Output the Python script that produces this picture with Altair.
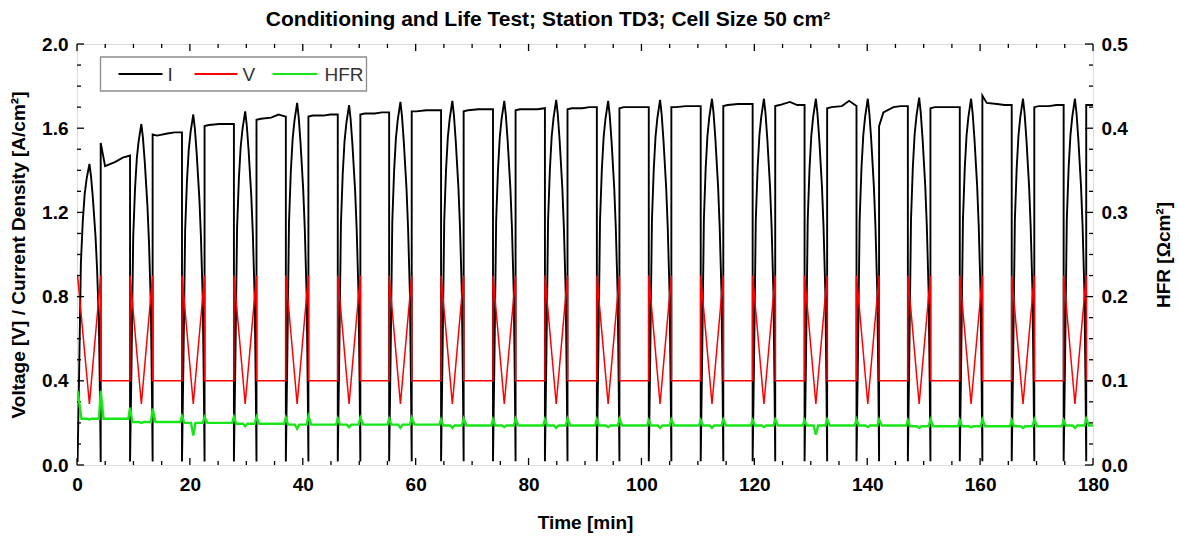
import altair as alt
import pandas as pd

# ---- cycle timing [min]: each cycle = polarization sweep (0.9 V -> min -> 0.9 V) then 0.4 V hold
SWEEP_START = [0.1, 9.4, 18.6, 27.8, 37.0, 46.2, 55.3, 64.5, 73.7, 82.9,
               92.1, 101.3, 110.5, 119.7, 128.9, 138.1, 147.2, 156.4, 165.6, 174.8]
V_MIN_TIME = [2.2, 11.4, 20.6, 29.8, 39.0, 48.2, 57.3, 66.5, 75.7, 84.9,
              94.1, 103.3, 112.5, 121.7, 130.9, 140.1, 149.2, 158.4, 167.6, 176.8]
SWEEP_END = [4.2, 13.4, 22.6, 31.8, 41.0, 50.2, 59.3, 68.5, 77.7, 86.9,
             96.1, 105.3, 114.5, 123.7, 132.9, 142.1, 151.2, 160.4, 169.6, 178.8]
T_STOP = 180.0

# ---- voltage levels [V]
V_OPEN = 0.9
V_LOW = 0.29
V_HOLD = 0.4

# ---- current density [A/cm2]
I_PEAK = [1.43, 1.62, 1.665, 1.68, 1.72, 1.71, 1.725, 1.73, 1.73, 1.735,
          1.73, 1.735, 1.74, 1.74, 1.74, 1.74, 1.745, 1.74, 1.74, 1.74]
# shape of the current during a sweep (fraction of sweep time, fraction of peak)
SWEEP_F = [0.0, 0.065, 0.14, 0.22, 0.30, 0.38, 0.5, 0.57, 0.65, 0.77, 0.84, 0.92, 0.97, 1.0]
SWEEP_I = [0.01, 0.30, 0.67, 0.81, 0.90, 0.95, 1.0, 0.96, 0.89, 0.76, 0.65, 0.47, 0.21, 0.01]
# current during the 0.4 V hold, sampled at these fractions of the hold
HOLD_F = [0.0, 0.15, 0.5, 0.75, 1.0]
I_HOLD = [
    [1.53, 1.42, 1.44, 1.46, 1.47],
    [1.57, 1.565, 1.575, 1.58, 1.58],
    [1.61, 1.615, 1.62, 1.62, 1.62],
    [1.64, 1.645, 1.65, 1.665, 1.655],
    [1.655, 1.66, 1.66, 1.665, 1.665],
    [1.665, 1.67, 1.67, 1.675, 1.675],
    [1.68, 1.68, 1.685, 1.685, 1.685],
    [1.68, 1.685, 1.69, 1.69, 1.69],
    [1.685, 1.69, 1.69, 1.69, 1.695],
    [1.69, 1.695, 1.695, 1.70, 1.70],
    [1.695, 1.70, 1.70, 1.70, 1.70],
    [1.70, 1.70, 1.705, 1.705, 1.705],
    [1.705, 1.71, 1.715, 1.715, 1.715],
    [1.705, 1.71, 1.725, 1.71, 1.71],
    [1.695, 1.70, 1.705, 1.73, 1.705],
    [1.61, 1.675, 1.70, 1.705, 1.705],
    [1.695, 1.70, 1.70, 1.70, 1.70],
    [1.755, 1.72, 1.715, 1.71, 1.71],
    [1.70, 1.705, 1.705, 1.71, 1.71],
    [1.71, 1.71, 1.71, 1.71, 1.71],
]

# ---- high frequency resistance [Ohm cm2]
HFR_START = [0.088, 0.068, 0.058, 0.057, 0.056, 0.055, 0.055, 0.054, 0.054, 0.054,
             0.054, 0.053, 0.053, 0.053, 0.053, 0.054, 0.053, 0.053, 0.053, 0.053]
HFR_VMIN = [0.054, 0.050, 0.035, 0.046, 0.043, 0.045, 0.044, 0.044, 0.045, 0.044,
            0.045, 0.044, 0.044, 0.045, 0.036, 0.045, 0.044, 0.045, 0.044, 0.044]
HFR_END = [0.088, 0.067, 0.057, 0.057, 0.058, 0.056, 0.056, 0.055, 0.055, 0.055,
           0.055, 0.054, 0.054, 0.054, 0.054, 0.054, 0.054, 0.054, 0.054, 0.055]
HFR_HOLD = [0.055, 0.051, 0.050, 0.049, 0.048, 0.048, 0.048, 0.047, 0.047, 0.047,
            0.047, 0.047, 0.047, 0.047, 0.047, 0.047, 0.046, 0.046, 0.046, 0.047]

# ---- axis tick values
X_TICKS = list(range(0, 181, 5))
Y_LEFT_TICKS = [round(0.1 * i, 1) for i in range(21)]
Y_RIGHT_TICKS = [round(0.025 * i, 3) for i in range(21)]

SERIES = ["I", "V", "HFR"]
COLORS = ["#000000", "#ff0000", "#19e619"]

FONT = "Liberation Sans"
W, H = 1016, 421


def sweep_time(k, f):
    ts, tm, te = SWEEP_START[k], V_MIN_TIME[k], SWEEP_END[k]
    if f <= 0.5:
        return ts + 2 * f * (tm - ts)
    return tm + (2 * f - 1) * (te - tm)


rows = []
n = len(SWEEP_START)
for k in range(n):
    ts, tm, te = SWEEP_START[k], V_MIN_TIME[k], SWEEP_END[k]
    t_next = SWEEP_START[k + 1] if k + 1 < n else T_STOP
    # current
    for f, fr in zip(SWEEP_F, SWEEP_I):
        rows.append(("I", sweep_time(k, f), fr * I_PEAK[k]))
    for f, val in zip(HOLD_F, I_HOLD[k]):
        rows.append(("I", te + f * (t_next - te), val))
    # voltage
    if k > 0:
        rows.append(("V", ts, V_HOLD))
    rows += [("V", ts, V_OPEN), ("V", tm, V_LOW), ("V", te, V_OPEN),
             ("V", te, V_HOLD), ("V", t_next, V_HOLD)]
    # HFR: short spikes at the voltage steps, brief dip at the sweep minimum
    if k == 0:
        rows += [("HFR", ts, HFR_START[k]), ("HFR", ts + 0.7, HFR_HOLD[k])]
    else:
        rows += [("HFR", ts - 0.3, HFR_HOLD[k - 1]), ("HFR", ts, HFR_START[k]),
                 ("HFR", ts + 0.4, HFR_HOLD[k])]
    rows += [("HFR", tm - 0.4, HFR_HOLD[k]), ("HFR", tm, HFR_VMIN[k]),
             ("HFR", tm + 0.4, HFR_HOLD[k]),
             ("HFR", te - 0.3, HFR_HOLD[k]), ("HFR", te, HFR_END[k]),
             ("HFR", min(te + 0.5, T_STOP), HFR_HOLD[k])]
    if k + 1 == n:
        rows.append(("HFR", T_STOP, HFR_HOLD[k]))

df = pd.DataFrame(rows, columns=["series", "t", "y"])
df["idx"] = range(len(df))

x_scale = alt.Scale(domain=[0, 180], nice=False, zero=False)
yl_scale = alt.Scale(domain=[0, 2], nice=False)
yr_scale = alt.Scale(domain=[0, 0.5], nice=False)

label_kw = dict(labelFont=FONT, labelFontSize=19, labelFontWeight="bold", labelColor="black",
                titleFont=FONT, titleFontSize=19, titleFontWeight="bold", titleColor="black",
                domain=False, ticks=False, tickSize=0, grid=False, labelFlush=False)

x_axis = alt.Axis(values=list(range(0, 181, 20)), format="d", title="Time [min]",
                  labelPadding=10, titleX=W / 2, titleY=57, titleBaseline="middle",
                  titleAlign="center", **label_kw)
yl_axis = alt.Axis(values=[0, 0.4, 0.8, 1.2, 1.6, 2.0], format=".1f",
                   title="Voltage [V] / Current Density [A/cm²]", orient="left",
                   labelPadding=9, titleX=-59, titleY=H / 2, titleAngle=270,
                   titleBaseline="middle", titleAlign="center", **label_kw)
yr_axis = alt.Axis(values=[0, 0.1, 0.2, 0.3, 0.4, 0.5], format=".1f", title="HFR [Ωcm²]",
                   orient="right", labelPadding=8, titleX=70, titleY=H / 2, titleAngle=270,
                   titleBaseline="middle", titleAlign="center", **label_kw)

x_enc = alt.X("t:Q", scale=x_scale, axis=x_axis)
yl_enc = alt.Y("y:Q", scale=yl_scale, axis=yl_axis)
yr_enc = alt.Y("y:Q", scale=yr_scale, axis=yr_axis)
color_enc = alt.Color("series:N", scale=alt.Scale(domain=SERIES, range=COLORS), legend=None)


def line(name, width):
    return alt.Chart(df).transform_filter(alt.datum.series == name).mark_line(
        strokeWidth=width, clip=True
    )


i_line = line("I", 1.9).encode(x=x_enc, y=yl_enc, color=color_enc, order="idx:Q")
v_line = line("V", 1.5).encode(x=x_enc, y=yl_enc, color=color_enc, order="idx:Q")
hfr_line = line("HFR", 2.4).encode(x=x_enc, y=yr_enc, color=color_enc, order="idx:Q")

# inward ticks on all four sides of the frame
xt = pd.DataFrame({"t": X_TICKS, "major": [v % 20 == 0 for v in X_TICKS]})
ylt = pd.DataFrame({"y": Y_LEFT_TICKS, "major": [round(v / 0.4, 6) % 1 == 0 for v in Y_LEFT_TICKS]})
yrt = pd.DataFrame({"y": Y_RIGHT_TICKS, "major": [round(v / 0.1, 6) % 1 == 0 for v in Y_RIGHT_TICKS]})


def rules(data, major, **enc):
    return alt.Chart(data).transform_filter(
        alt.datum.major if major else ~alt.datum.major
    ).mark_rule(color="black", strokeWidth=1.3).encode(**enc)


tick_layers = []
for major, ln in [(True, 7), (False, 4)]:
    tick_layers += [
        rules(xt, major, x=x_enc, y=alt.value(H), y2=alt.value(H - ln)),
        rules(xt, major, x=x_enc, y=alt.value(0), y2=alt.value(ln)),
        rules(ylt, major, y=yl_enc, x=alt.value(0), x2=alt.value(ln)),
    ]
right_ticks = [
    rules(yrt, True, y=yr_enc, x=alt.value(W), x2=alt.value(W - 8)),
    rules(yrt, False, y=yr_enc, x=alt.value(W), x2=alt.value(W - 4)),
]

# framed legend in the upper left corner of the plot
one = pd.DataFrame({"a": [0]})
legend_layers = [
    alt.Chart(one).mark_rect(fill="white", stroke="#8c8c8c", strokeWidth=1.3).encode(
        x=alt.value(23.5), x2=alt.value(289.5), y=alt.value(13), y2=alt.value(47)
    )
]
for name, col, x0, x1, xt_ in zip(SERIES, COLORS, [41.5, 117.5, 195.5],
                                  [85.5, 160.5, 240.5], [90.5, 165.5, 247.5]):
    legend_layers.append(
        alt.Chart(one).mark_rule(color=col, strokeWidth=2).encode(
            x=alt.value(x0), x2=alt.value(x1), y=alt.value(30))
    )
    legend_layers.append(
        alt.Chart(one).mark_text(align="left", baseline="middle", font=FONT, fontSize=19,
                                 color="#333333").encode(
            x=alt.value(xt_), y=alt.value(31), text=alt.value(name))
    )

left = alt.layer(i_line, v_line, *tick_layers)
right = alt.layer(hfr_line, *right_ticks, *legend_layers)

chart = alt.layer(left, right).resolve_scale(y="independent").properties(
    width=W, height=H,
    title=alt.TitleParams("Conditioning and Life Test; Station TD3; Cell Size 50 cm²",
                          font=FONT, fontSize=21, fontWeight="bold", color="black",
                          anchor="middle", frame="group", dx=-37, offset=5),
    autosize=alt.AutoSizeParams(type="none"),
    padding={"left": 77, "top": 44, "right": 86, "bottom": 71},
).configure_view(stroke="black", strokeWidth=1.5).configure(background="white")

chart.save("out.html", embed_options={"renderer": "svg", "actions": False})
